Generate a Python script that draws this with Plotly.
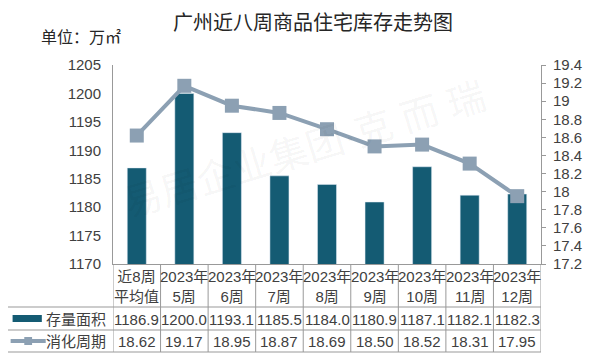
import plotly.graph_objects as go

categories = ["近8周<br>平均值", "2023年<br>5周", "2023年<br>6周", "2023年<br>7周", "2023年<br>8周",
              "2023年<br>9周", "2023年<br>10周", "2023年<br>11周", "2023年<br>12周"]
stock_area = [1186.9, 1200.0, 1193.1, 1185.5, 1184.0, 1180.9, 1187.1, 1182.1, 1182.3]
cycle = [18.62, 19.17, 18.95, 18.87, 18.69, 18.50, 18.52, 18.31, 17.95]
series_names = ["存量面积", "消化周期"]
title_text = "广州近八周商品住宅库存走势图"
unit_text = "单位：万㎡"

BAR_C = "#145B73"
LINE_C = "#8CA0B3"
TXT = "#404040"
GRID = "#999999"
FONT = "Liberation Sans, Noto Sans CJK SC, sans-serif"

OFF = 8  # page body margin
W, H = 594 - OFF, 357 - OFF
L, R, T, B = 113, 552, 65, 264  # page pixel coordinates
ph = B - T
pw = R - L

def py(p):
    return (B - p) / ph

def px(p):
    return (p - L) / pw

fig = go.Figure()
fig.add_trace(go.Bar(x=categories, y=stock_area, name=series_names[0], marker_color=BAR_C,
                     width=0.4, yaxis="y"))
fig.add_trace(go.Scatter(x=categories, y=cycle, name=series_names[1], mode="lines+markers",
                         line=dict(color=LINE_C, width=4),
                         marker=dict(symbol="square", size=14, color=LINE_C), yaxis="y2"))

shapes = []
for yy in [307, 330, 352]:
    shapes.append(dict(type="line", xref="paper", yref="paper", x0=px(3), x1=1, y0=py(yy), y1=py(yy),
                       line=dict(color=GRID, width=1)))
for i in range(len(categories) + 1):
    shapes.append(dict(type="line", xref="x", yref="paper", x0=i - 0.5, x1=i - 0.5, y0=0, y1=py(352),
                       line=dict(color=GRID, width=1)))
shapes.append(dict(type="line", xref="paper", yref="paper", x0=px(3), x1=px(3), y0=py(307), y1=py(352),
                   line=dict(color=GRID, width=1)))
shapes.append(dict(type="rect", xref="paper", yref="paper", x0=px(10), x1=px(40), y0=py(322), y1=py(315),
                   fillcolor=BAR_C, line=dict(width=0)))
shapes.append(dict(type="line", xref="paper", yref="paper", x0=px(8), x1=px(44), y0=py(341), y1=py(341),
                   line=dict(color=LINE_C, width=4)))
shapes.append(dict(type="rect", xref="paper", yref="paper", x0=px(22), x1=px(30), y0=py(345), y1=py(337),
                   fillcolor=LINE_C, line=dict(width=0)))

annotations = []
for c in categories:
    annotations.append(dict(x=c, xref="x", y=py(286), yref="paper", text=c, showarrow=False,
                            font=dict(size=15, color=TXT), xanchor="center", yanchor="middle"))
for c, v in zip(categories, stock_area):
    annotations.append(dict(x=c, xref="x", y=py(319), yref="paper", text=f"{v:.1f}", showarrow=False,
                            font=dict(size=15, color=TXT), xanchor="center", yanchor="middle"))
for c, v in zip(categories, cycle):
    annotations.append(dict(x=c, xref="x", y=py(341.5), yref="paper", text=f"{v:.2f}", showarrow=False,
                            font=dict(size=15, color=TXT), xanchor="center", yanchor="middle"))
annotations.append(dict(x=px(108), xref="paper", y=py(319), yref="paper", text=series_names[0], showarrow=False,
                        font=dict(size=15, color=TXT), xanchor="right", yanchor="middle"))
annotations.append(dict(x=px(108), xref="paper", y=py(341.5), yref="paper", text=series_names[1], showarrow=False,
                        font=dict(size=15, color=TXT), xanchor="right", yanchor="middle"))
annotations.append(dict(x=px(318), xref="paper", y=py(23), yref="paper", text=title_text, showarrow=False,
                        font=dict(size=20, color="#262626"), xanchor="center", yanchor="middle"))
annotations.append(dict(x=px(37), xref="paper", y=py(37), yref="paper", text=unit_text, showarrow=False,
                        font=dict(size=16, color="#262626"), xanchor="left", yanchor="middle"))
annotations.append(dict(x=px(310), xref="paper", y=py(150), yref="paper", text="易居企业集团·克 而 瑞",
                        showarrow=False, textangle=-17,
                        font=dict(size=38, color="rgba(0,0,0,0.05)"), xanchor="center", yanchor="middle"))

fig.update_layout(
    width=W, height=H,
    margin=dict(l=L - OFF, r=594 - R, t=T - OFF, b=357 - B, pad=0),
    paper_bgcolor="white", plot_bgcolor="white",
    font=dict(family=FONT, color=TXT, size=15),
    showlegend=False,
    xaxis=dict(type="category", range=[-0.5, len(categories) - 0.5], showline=True, linecolor=GRID,
               linewidth=1, ticks="", showgrid=False, showticklabels=False),
    yaxis=dict(range=[1170, 1205], dtick=5, showgrid=False, showline=True, linecolor=GRID, linewidth=1,
               ticks="", tickfont=dict(size=15, color=TXT), ticklabelstandoff=8, zeroline=False),
    yaxis2=dict(range=[17.2, 19.4], dtick=0.2, overlaying="y", side="right", showgrid=False, showline=True,
                linecolor=GRID, linewidth=1, ticks="outside", ticklen=4, tickcolor=GRID,
                tickfont=dict(size=15, color=TXT), ticklabelstandoff=4, zeroline=False),
    shapes=shapes,
    annotations=annotations,
)

fig.write_html("out.html")
